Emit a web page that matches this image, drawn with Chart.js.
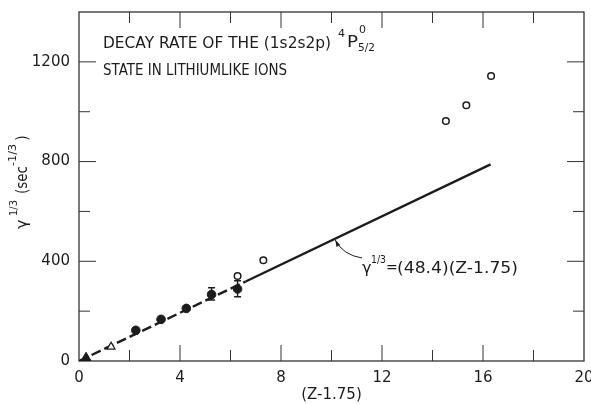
<!DOCTYPE html>
<html>
<head>
<meta charset="utf-8">
<script src="https://cdn.jsdelivr.net/npm/chart.js@4"></script>
<style>
  html, body { margin: 0; padding: 0; background: #fff; }
  #wrap { width: 591px; height: 404px; position: relative; }
</style>
</head>
<body>
<div id="wrap"><canvas id="decayChart"></canvas></div>
<script>
// values, x = (Z - 1.75), y = gamma^(1/3) in sec^(-1/3)
const filledX = [2.25, 3.25, 4.25, 5.25, 6.28];
const filledY = [123, 167, 211, 267, 289];
const openX = [6.28, 7.3, 14.53, 15.34, 16.32];
const openY = [341, 404, 963, 1026, 1143];
const openTriX = [1.27];
const openTriY = [57];
const filledTriX = [0.28];
const filledTriY = [13];
// error bars on two of the filled points
const errX = [5.25, 6.28];
const errLow = [245, 258];
const errHigh = [294, 322];
// fitted line gamma^(1/3) = 48.4 (Z - 1.75): dashed part, then solid part
const dashX = [0, 6.6];
const dashY = [0, 319];
const solidX = [6.6, 16.3];
const solidY = [319, 789];
// axis ticks
const xTicks = [0, 4, 8, 12, 16, 20];
const yTicks = [0, 400, 800, 1200];
// point on the line the label arrow touches
const arrowAt = [10.15, 485];

const ink = '#1c1c1c';
const fontName = '"DejaVu Sans", sans-serif';

function pts(xs, ys) {
    return xs.map(function (x, i) { return { x: x, y: ys[i] }; });
}

// text squeezed or stretched to a given width (the lettering is narrow)
function txt(ctx, s, x, y, size, width) {
    ctx.save();
    ctx.font = size + 'px ' + fontName;
    ctx.textBaseline = 'alphabetic';
    ctx.textAlign = 'left';
    var w = ctx.measureText(s).width;
    var k = width ? width / w : 1;
    ctx.translate(x, y);
    ctx.scale(k, 1);
    ctx.fillText(s, 0, 0);
    ctx.restore();
}

// frame with inward ticks on all four sides, and error bars
const framePlugin = {
    id: 'frame',
    beforeDatasetsDraw: function (chart) {
        var ctx = chart.ctx, a = chart.chartArea;
        var xs = chart.scales.x, ys = chart.scales.y;
        ctx.save();
        ctx.strokeStyle = '#333';
        ctx.lineWidth = 1.3;
        ctx.strokeRect(a.left, a.top, a.right - a.left, a.bottom - a.top);
        ctx.lineWidth = 1;
        xs.ticks.forEach(function (t) {
            if (t.value <= xs.min || t.value >= xs.max) return;
            var px = xs.getPixelForValue(t.value);
            var len = xTicks.indexOf(t.value) >= 0 ? 16 : 11;
            ctx.beginPath();
            ctx.moveTo(px, a.bottom); ctx.lineTo(px, a.bottom - len);
            ctx.moveTo(px, a.top); ctx.lineTo(px, a.top + len);
            ctx.stroke();
        });
        ys.ticks.forEach(function (t) {
            if (t.value <= ys.min || t.value >= ys.max) return;
            var py = ys.getPixelForValue(t.value);
            var len = yTicks.indexOf(t.value) >= 0 ? 17 : 11;
            ctx.beginPath();
            ctx.moveTo(a.left, py); ctx.lineTo(a.left + len, py);
            ctx.moveTo(a.right, py); ctx.lineTo(a.right - len, py);
            ctx.stroke();
        });
        ctx.restore();
    },
    afterDatasetsDraw: function (chart) {
        var ctx = chart.ctx;
        var xs = chart.scales.x, ys = chart.scales.y;
        ctx.save();
        ctx.strokeStyle = ink;
        ctx.lineWidth = 1.4;
        errX.forEach(function (x, i) {
            var px = xs.getPixelForValue(x);
            var lo = ys.getPixelForValue(errLow[i]), hi = ys.getPixelForValue(errHigh[i]);
            ctx.beginPath();
            ctx.moveTo(px, lo); ctx.lineTo(px, hi);
            ctx.moveTo(px - 3.5, lo); ctx.lineTo(px + 3.5, lo);
            ctx.moveTo(px - 3.5, hi); ctx.lineTo(px + 3.5, hi);
            ctx.stroke();
        });
        ctx.restore();
    }
};

// title, equation label with arrow, and y axis title
const textPlugin = {
    id: 'texts',
    afterDraw: function (chart) {
        var ctx = chart.ctx;
        var xs = chart.scales.x, ys = chart.scales.y;
        ctx.save();
        ctx.fillStyle = ink;

        txt(ctx, 'DECAY RATE OF THE (1s2s2p)', 103, 47.5, 15, 228);
        txt(ctx, '4', 338, 37, 11);
        txt(ctx, 'P', 347, 46.5, 15, 11);
        txt(ctx, '0', 359, 33, 11);
        txt(ctx, '5/2', 358, 51, 11, 17);
        txt(ctx, 'STATE IN LITHIUMLIKE IONS', 103, 75, 15, 184);

        // equation next to the line
        txt(ctx, '\u03b3', 362, 273, 16);
        txt(ctx, '1/3', 371, 263, 11, 15);
        txt(ctx, '=', 386, 272, 14);
        txt(ctx, '(48.4)(Z-1.75)', 397, 273, 15, 121);

        // arrow from the label to the line
        var tx = xs.getPixelForValue(arrowAt[0]), ty = ys.getPixelForValue(arrowAt[1]);
        var sx = 362, sy = 258, cx = 343, cy = 255;
        ctx.strokeStyle = ink;
        ctx.lineWidth = 1;
        ctx.beginPath();
        ctx.moveTo(sx, sy);
        ctx.quadraticCurveTo(cx, cy, tx, ty);
        ctx.stroke();
        var ang = Math.atan2(ty - cy, tx - cx);
        ctx.beginPath();
        ctx.moveTo(tx, ty);
        ctx.lineTo(tx - 7 * Math.cos(ang - 0.3), ty - 7 * Math.sin(ang - 0.3));
        ctx.lineTo(tx - 7 * Math.cos(ang + 0.3), ty - 7 * Math.sin(ang + 0.3));
        ctx.closePath();
        ctx.fill();

        // y axis title, rotated
        ctx.translate(27, 229);
        ctx.rotate(-Math.PI / 2);
        txt(ctx, '\u03b3', 0, 0, 16);
        txt(ctx, '1/3', 13, -10, 11, 16);
        txt(ctx, '(sec', 35, 0, 15, 28);
        txt(ctx, '-1/3', 63, -11, 11, 22);
        txt(ctx, ')', 88, 0, 15);
        ctx.restore();
    }
};

document.addEventListener('DOMContentLoaded', function () {
    var ctx = document.getElementById('decayChart').getContext('2d');
    var tickFont = { family: fontName, size: 15 };
    new Chart(ctx, {
        type: 'scatter',
        data: {
            datasets: [
                {
                    label: 'filled triangle',
                    data: pts(filledTriX, filledTriY),
                    pointStyle: 'triangle',
                    pointRadius: 5.5,
                    backgroundColor: ink,
                    borderColor: ink
                },
                {
                    label: 'open triangle',
                    data: pts(openTriX, openTriY),
                    pointStyle: 'triangle',
                    pointRadius: 4.5,
                    backgroundColor: '#fff',
                    borderColor: ink,
                    borderWidth: 1.3
                },
                {
                    label: 'filled circles',
                    data: pts(filledX, filledY),
                    pointRadius: 4.3,
                    backgroundColor: ink,
                    borderColor: ink
                },
                {
                    label: 'open circles',
                    data: pts(openX, openY),
                    pointRadius: 3.3,
                    backgroundColor: '#fff',
                    borderColor: ink,
                    borderWidth: 1.5
                },
                {
                    label: 'fit dashed',
                    type: 'line',
                    data: pts(dashX, dashY),
                    borderColor: ink,
                    borderWidth: 2.4,
                    borderDash: [10, 4],
                    pointRadius: 0,
                    fill: false
                },
                {
                    label: 'fit',
                    type: 'line',
                    data: pts(solidX, solidY),
                    borderColor: ink,
                    borderWidth: 2.4,
                    pointRadius: 0,
                    fill: false
                }
            ]
        },
        options: {
            responsive: true,
            maintainAspectRatio: false,
            animation: false,
            events: [],
            layout: { padding: { left: 0, top: 12, right: 7, bottom: 0 } },
            plugins: {
                legend: { display: false },
                tooltip: { enabled: false }
            },
            scales: {
                x: {
                    type: 'linear',
                    min: 0,
                    max: 20,
                    grid: { display: false, drawTicks: false },
                    border: { display: false },
                    ticks: {
                        stepSize: 2,
                        padding: 8,
                        color: ink,
                        font: tickFont,
                        maxRotation: 0,
                        autoSkip: false,
                        callback: function (v) { return xTicks.indexOf(v) >= 0 ? String(v) : ''; }
                    },
                    title: {
                        display: true,
                        text: '(Z-1.75)',
                        color: ink,
                        font: { family: fontName, size: 15 },
                        padding: 0
                    },
                    afterFit: function (s) {
                        s.height = 43;
                        s.paddingLeft = 0;
                        s.paddingRight = 0;
                    }
                },
                y: {
                    type: 'linear',
                    min: 0,
                    max: 1400,
                    grid: { display: false, drawTicks: false },
                    border: { display: false },
                    ticks: {
                        stepSize: 200,
                        padding: 9,
                        color: ink,
                        font: tickFont,
                        autoSkip: false,
                        callback: function (v) { return yTicks.indexOf(v) >= 0 ? String(v) : ''; }
                    },
                    afterFit: function (s) {
                        s.width = 79;
                        s.paddingTop = 0;
                        s.paddingBottom = 0;
                    }
                }
            }
        },
        plugins: [framePlugin, textPlugin]
    });
});
</script>
</body>
</html>
